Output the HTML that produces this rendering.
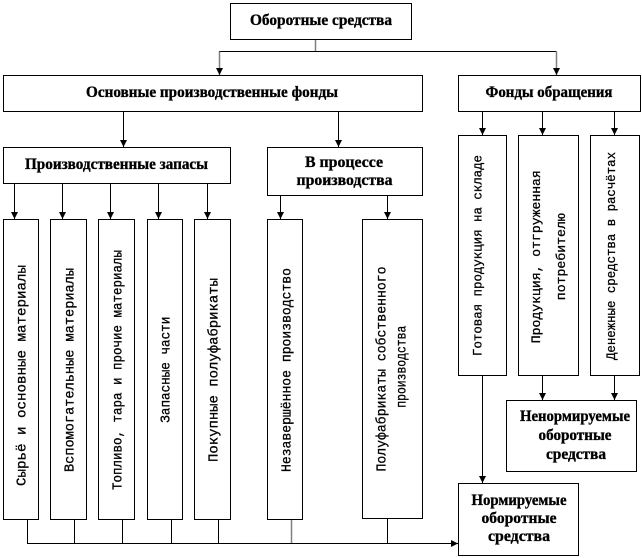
<!DOCTYPE html>
<html>
<head>
<meta charset="utf-8">
<style>
html,body{margin:0;padding:0;background:#fff;}
svg{display:block;}
.b{fill:#fff;stroke:#000;stroke-width:1;}
.l{stroke:#000;stroke-width:1;fill:none;}
.g{stroke:#808080;stroke-width:1.5;fill:none;}
.h{font-family:"Liberation Serif",serif;font-weight:bold;font-size:16px;fill:#000;stroke:#000;stroke-width:0.35;}
.v{font-family:"Liberation Mono","DejaVu Sans Mono",monospace;font-size:14px;fill:#000;stroke:#000;stroke-width:0.3;}
.vs{font-family:"Liberation Mono","DejaVu Sans Mono",monospace;font-size:13px;fill:#000;stroke:#000;stroke-width:0.3;}
</style>
</head>
<body>
<svg width="642" height="558" viewBox="0 0 642 558" xmlns="http://www.w3.org/2000/svg">
<defs>
<marker id="a" markerWidth="7" markerHeight="8" refX="7" refY="3.5" orient="auto" markerUnits="userSpaceOnUse">
<path d="M0,0 L7,3.5 L0,7 Z" fill="#000"/>
</marker>
</defs>

<!-- Boxes -->
<rect class="b" x="230.5" y="3.5" width="181" height="36"/>
<rect class="b" x="3.5" y="75.5" width="419" height="36"/>
<rect class="b" x="458.5" y="75.5" width="182" height="36"/>
<rect class="b" x="3.5" y="147.5" width="227" height="36"/>
<rect class="b" x="267.5" y="147.5" width="155" height="48"/>

<rect class="b" x="3.5" y="219.5" width="35" height="300"/>
<rect class="b" x="50.5" y="219.5" width="36" height="300"/>
<rect class="b" x="98.5" y="219.5" width="36" height="300"/>
<rect class="b" x="147.5" y="219.5" width="35" height="300"/>
<rect class="b" x="194.5" y="219.5" width="36" height="300"/>
<rect class="b" x="267.5" y="219.5" width="35" height="300"/>
<rect class="b" x="362.5" y="219.5" width="60" height="299"/>

<rect class="b" x="458.5" y="135.5" width="48" height="240"/>
<rect class="b" x="518.5" y="135.5" width="60" height="240"/>
<rect class="b" x="590.5" y="135.5" width="49" height="240"/>

<rect class="b" x="506.5" y="400.5" width="130" height="71"/>
<rect class="b" x="458.5" y="483.5" width="120" height="72"/>

<!-- Connectors top -->
<line class="g" x1="315.5" y1="40" x2="315.5" y2="51.5"/>
<line class="l" x1="219" y1="51.5" x2="556.5" y2="51.5"/>
<line class="g" x1="219.5" y1="51.5" x2="219.5" y2="75" marker-end="url(#a)"/>
<line class="g" x1="556.5" y1="51.5" x2="556.5" y2="75" marker-end="url(#a)"/>

<line class="l" x1="123.5" y1="112" x2="123.5" y2="147" marker-end="url(#a)"/>
<line class="l" x1="338.5" y1="112" x2="338.5" y2="147" marker-end="url(#a)"/>

<line class="l" x1="482.5" y1="112" x2="482.5" y2="135" marker-end="url(#a)"/>
<line class="l" x1="542.5" y1="112" x2="542.5" y2="135" marker-end="url(#a)"/>
<line class="l" x1="614.5" y1="112" x2="614.5" y2="135" marker-end="url(#a)"/>

<line class="l" x1="14.5" y1="184" x2="14.5" y2="219" marker-end="url(#a)"/>
<line class="l" x1="62.5" y1="184" x2="62.5" y2="219" marker-end="url(#a)"/>
<line class="l" x1="110.5" y1="184" x2="110.5" y2="219" marker-end="url(#a)"/>
<line class="l" x1="158.5" y1="184" x2="158.5" y2="219" marker-end="url(#a)"/>
<line class="l" x1="207.5" y1="184" x2="207.5" y2="219" marker-end="url(#a)"/>

<line class="l" x1="280.5" y1="196" x2="280.5" y2="219" marker-end="url(#a)"/>
<line class="l" x1="387.5" y1="196" x2="387.5" y2="219" marker-end="url(#a)"/>

<!-- Bottom connectors -->
<line class="l" x1="27.5" y1="520" x2="27.5" y2="543.5"/>
<line class="l" x1="74.5" y1="520" x2="74.5" y2="543.5"/>
<line class="l" x1="122.5" y1="520" x2="122.5" y2="543.5"/>
<line class="l" x1="171.5" y1="520" x2="171.5" y2="543.5"/>
<line class="l" x1="218.5" y1="520" x2="218.5" y2="543.5"/>
<line class="g" x1="291.5" y1="520" x2="291.5" y2="543.5"/>
<line class="l" x1="387.5" y1="519" x2="387.5" y2="543.5"/>
<line class="l" x1="27" y1="543.5" x2="458" y2="543.5" marker-end="url(#a)"/>

<line class="l" x1="482.5" y1="376" x2="482.5" y2="483" marker-end="url(#a)"/>
<line class="l" x1="542.5" y1="376" x2="542.5" y2="400" marker-end="url(#a)"/>
<line class="l" x1="614.5" y1="376" x2="614.5" y2="400" marker-end="url(#a)"/>

<!-- Header texts -->
<text class="h" x="321" y="25" text-anchor="middle" textLength="142" lengthAdjust="spacingAndGlyphs">Оборотные средства</text>
<text class="h" x="212" y="97" text-anchor="middle" textLength="252" lengthAdjust="spacingAndGlyphs">Основные производственные фонды</text>
<text class="h" x="549" y="97" text-anchor="middle" textLength="127" lengthAdjust="spacingAndGlyphs">Фонды обращения</text>
<text class="h" x="116.5" y="169" text-anchor="middle" textLength="183" lengthAdjust="spacingAndGlyphs">Производственные запасы</text>
<text class="h" x="344" y="167" text-anchor="middle" textLength="78" lengthAdjust="spacingAndGlyphs">В процессе</text>
<text class="h" x="344.5" y="185" text-anchor="middle" textLength="96" lengthAdjust="spacingAndGlyphs">производства</text>

<text class="h" x="575" y="421" text-anchor="middle" textLength="110" lengthAdjust="spacingAndGlyphs">Ненормируемые</text>
<text class="h" x="575" y="440" text-anchor="middle" textLength="73" lengthAdjust="spacingAndGlyphs">оборотные</text>
<text class="h" x="576" y="459" text-anchor="middle" textLength="60" lengthAdjust="spacingAndGlyphs">средства</text>

<text class="h" x="519" y="505" text-anchor="middle" textLength="95" lengthAdjust="spacingAndGlyphs">Нормируемые</text>
<text class="h" x="519" y="523" text-anchor="middle" textLength="75" lengthAdjust="spacingAndGlyphs">оборотные</text>
<text class="h" x="519" y="541" text-anchor="middle" textLength="62" lengthAdjust="spacingAndGlyphs">средства</text>

<!-- Vertical texts (left) -->
<text class="v" transform="translate(25.5,375.5) rotate(-90)" text-anchor="middle" textLength="221" lengthAdjust="spacingAndGlyphs">Сырьё и основные материалы</text>
<text class="v" transform="translate(73.5,370) rotate(-90)" text-anchor="middle" textLength="204" lengthAdjust="spacingAndGlyphs">Вспомогательные материалы</text>
<text class="v" transform="translate(121.5,370) rotate(-90)" text-anchor="middle" textLength="240" lengthAdjust="spacingAndGlyphs">Топливо, тара и прочие материалы</text>
<text class="v" transform="translate(169.5,369.7) rotate(-90)" text-anchor="middle" textLength="106" lengthAdjust="spacingAndGlyphs">Запасные части</text>
<text class="v" transform="translate(217.5,370) rotate(-90)" text-anchor="middle" textLength="184" lengthAdjust="spacingAndGlyphs">Покупные полуфабрикаты</text>
<text class="v" transform="translate(290.5,370) rotate(-90)" text-anchor="middle" textLength="204" lengthAdjust="spacingAndGlyphs">Незавершённое производство</text>
<text class="v" transform="translate(385.5,369) rotate(-90)" text-anchor="middle" textLength="205" lengthAdjust="spacingAndGlyphs">Полуфабрикаты собственного</text>
<text class="v" transform="translate(405.5,366.7) rotate(-90)" text-anchor="middle" textLength="82" lengthAdjust="spacingAndGlyphs">производства</text>

<!-- Vertical texts (right) -->
<text class="vs" transform="translate(481.5,255.5) rotate(-90)" text-anchor="middle" textLength="201" lengthAdjust="spacingAndGlyphs">Готовая продукция на складе</text>
<text class="vs" transform="translate(540,256.7) rotate(-90)" text-anchor="middle" textLength="173" lengthAdjust="spacingAndGlyphs">Продукция, отгруженная</text>
<text class="vs" transform="translate(565,256.7) rotate(-90)" text-anchor="middle" textLength="87" lengthAdjust="spacingAndGlyphs">потребителю</text>
<text class="vs" transform="translate(615,256) rotate(-90)" text-anchor="middle" textLength="208" lengthAdjust="spacingAndGlyphs">Денежные средства в расчётах</text>
</svg>
</body>
</html>
